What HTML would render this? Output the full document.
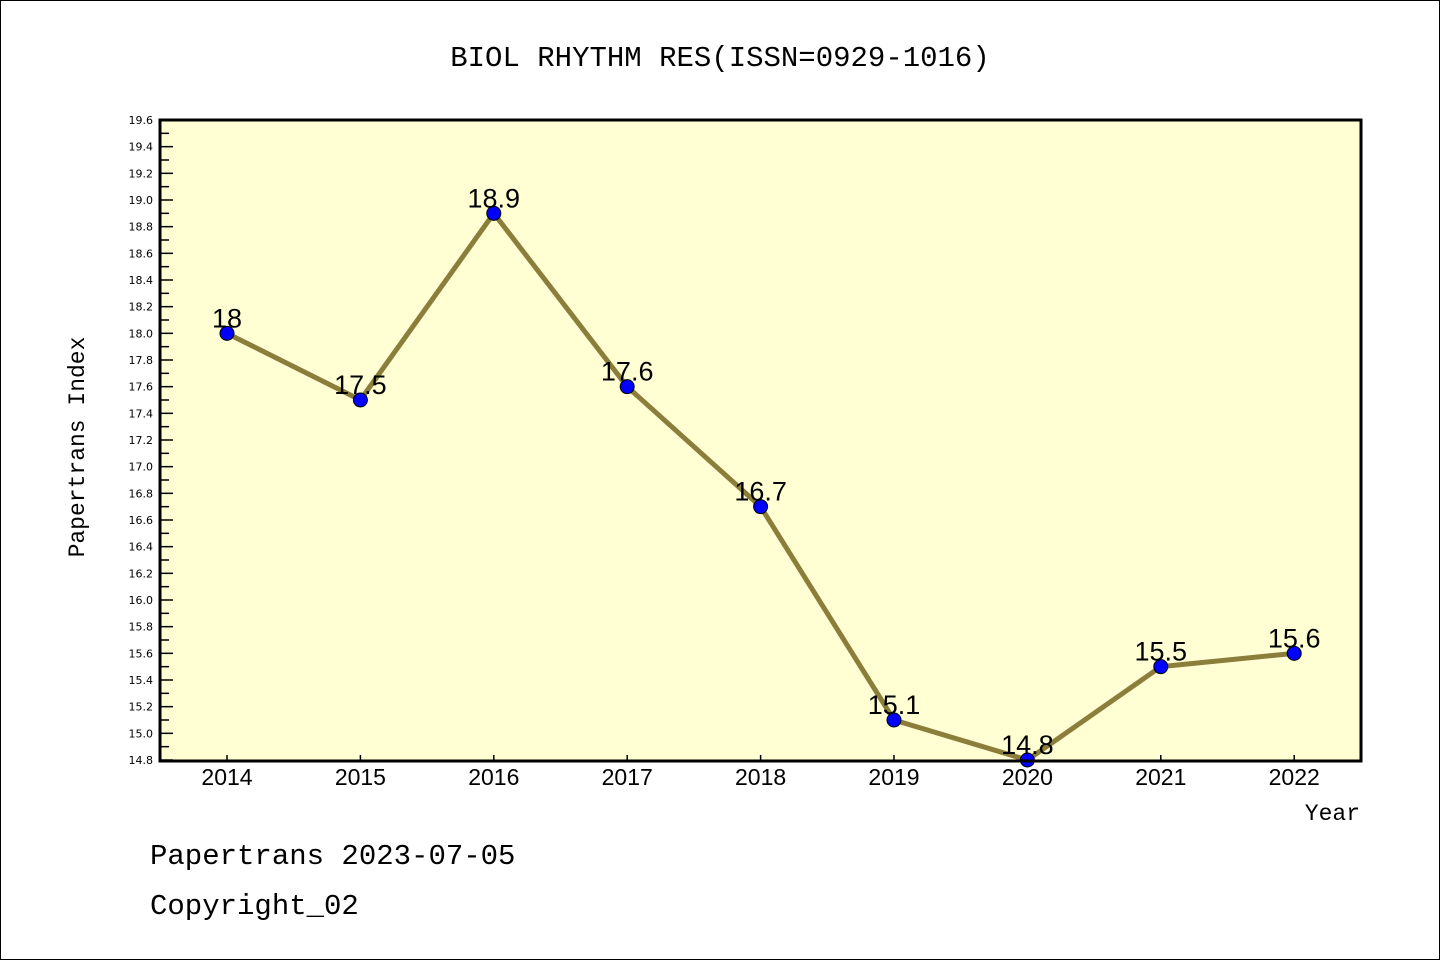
<!DOCTYPE html>
<html><head><meta charset="utf-8"><style>
body{margin:0;background:#fff}
svg{display:block;font-family:"Liberation Mono","DejaVu Sans Mono",monospace}
</style></head><body>
<svg id="chart" width="1440" height="960">
<rect x="0.5" y="0.5" width="1439" height="959" fill="#fff" stroke="#000"/>
<text x="720" y="66" text-anchor="middle" font-size="29">BIOL RHYTHM RES(ISSN=0929-1016)</text>
<rect x="160" y="120" width="1201" height="641" fill="#ffffd3"/>
<g id="yticks"></g><g id="xticks"></g>
<g id="series"></g>
<rect x="160" y="120" width="1201" height="641" fill="none" stroke="#000" stroke-width="3"/>
<text transform="translate(84,447) rotate(-90)" text-anchor="middle" font-size="23">Papertrans Index</text>
<text x="1360" y="820" text-anchor="end" font-size="23">Year</text>
<text x="150" y="864" font-size="29">Papertrans 2023-07-05</text>
<text x="150" y="914" font-size="29">Copyright_02</text>
</svg>
<script>
const years=["2014","2015","2016","2017","2018","2019","2020","2021","2022"];
const values=[18,17.5,18.9,17.6,16.7,15.1,14.8,15.5,15.6];
const labels=["18","17.5","18.9","17.6","16.7","15.1","14.8","15.5","15.6"];
const yMin=14.8,yMax=19.6;
const NS="http://www.w3.org/2000/svg";
const y=v=>760-(v-yMin)/(yMax-yMin)*640;
const x=i=>227+i*133.4;
function mk(t,a,p){const e=document.createElementNS(NS,t);for(const k in a)e.setAttribute(k,a[k]);p.appendChild(e);return e;}
const yt=document.getElementById('yticks');
for(let k=0;k<=48;k++){const v=yMin+k*0.1;const yy=y(v);const major=k%2===0;
 const l=mk('line',{x1:160,x2:major?173:169,y1:yy,y2:yy,stroke:'#000','stroke-width':1.5},yt);
 
 
 if(major){const t=mk('text',{x:153,y:yy+4,'text-anchor':'end','font-size':11,'font-family':'DejaVu Sans, sans-serif'},yt);t.textContent=v.toFixed(1);
 
 }}
const xt=document.getElementById('xticks');
years.forEach((yr,i)=>{const l=mk('line',{x1:x(i),x2:x(i),y1:761,y2:755,stroke:'#000','stroke-width':1.5},xt);
 
 
 const t=mk('text',{x:x(i),y:785,'text-anchor':'middle','font-size':23,'font-family':'Liberation Sans, sans-serif'},xt);t.textContent=yr;
 
 });
const s=document.getElementById('series');
const pl=mk('polyline',{points:values.map((v,i)=>x(i)+','+y(v)).join(' '),fill:'none',stroke:'#8b7d3a','stroke-width':5},s);


values.forEach((v,i)=>{const c=mk('circle',{cx:x(i),cy:y(v),r:7,fill:'#0000ff',stroke:'#000','stroke-width':1},s);
 
 
 const t=mk('text',{x:x(i),y:y(v)-6,'text-anchor':'middle','font-size':27,'font-family':'Liberation Sans, sans-serif'},s);t.textContent=labels[i];
 
 });
</script>
</body></html>
